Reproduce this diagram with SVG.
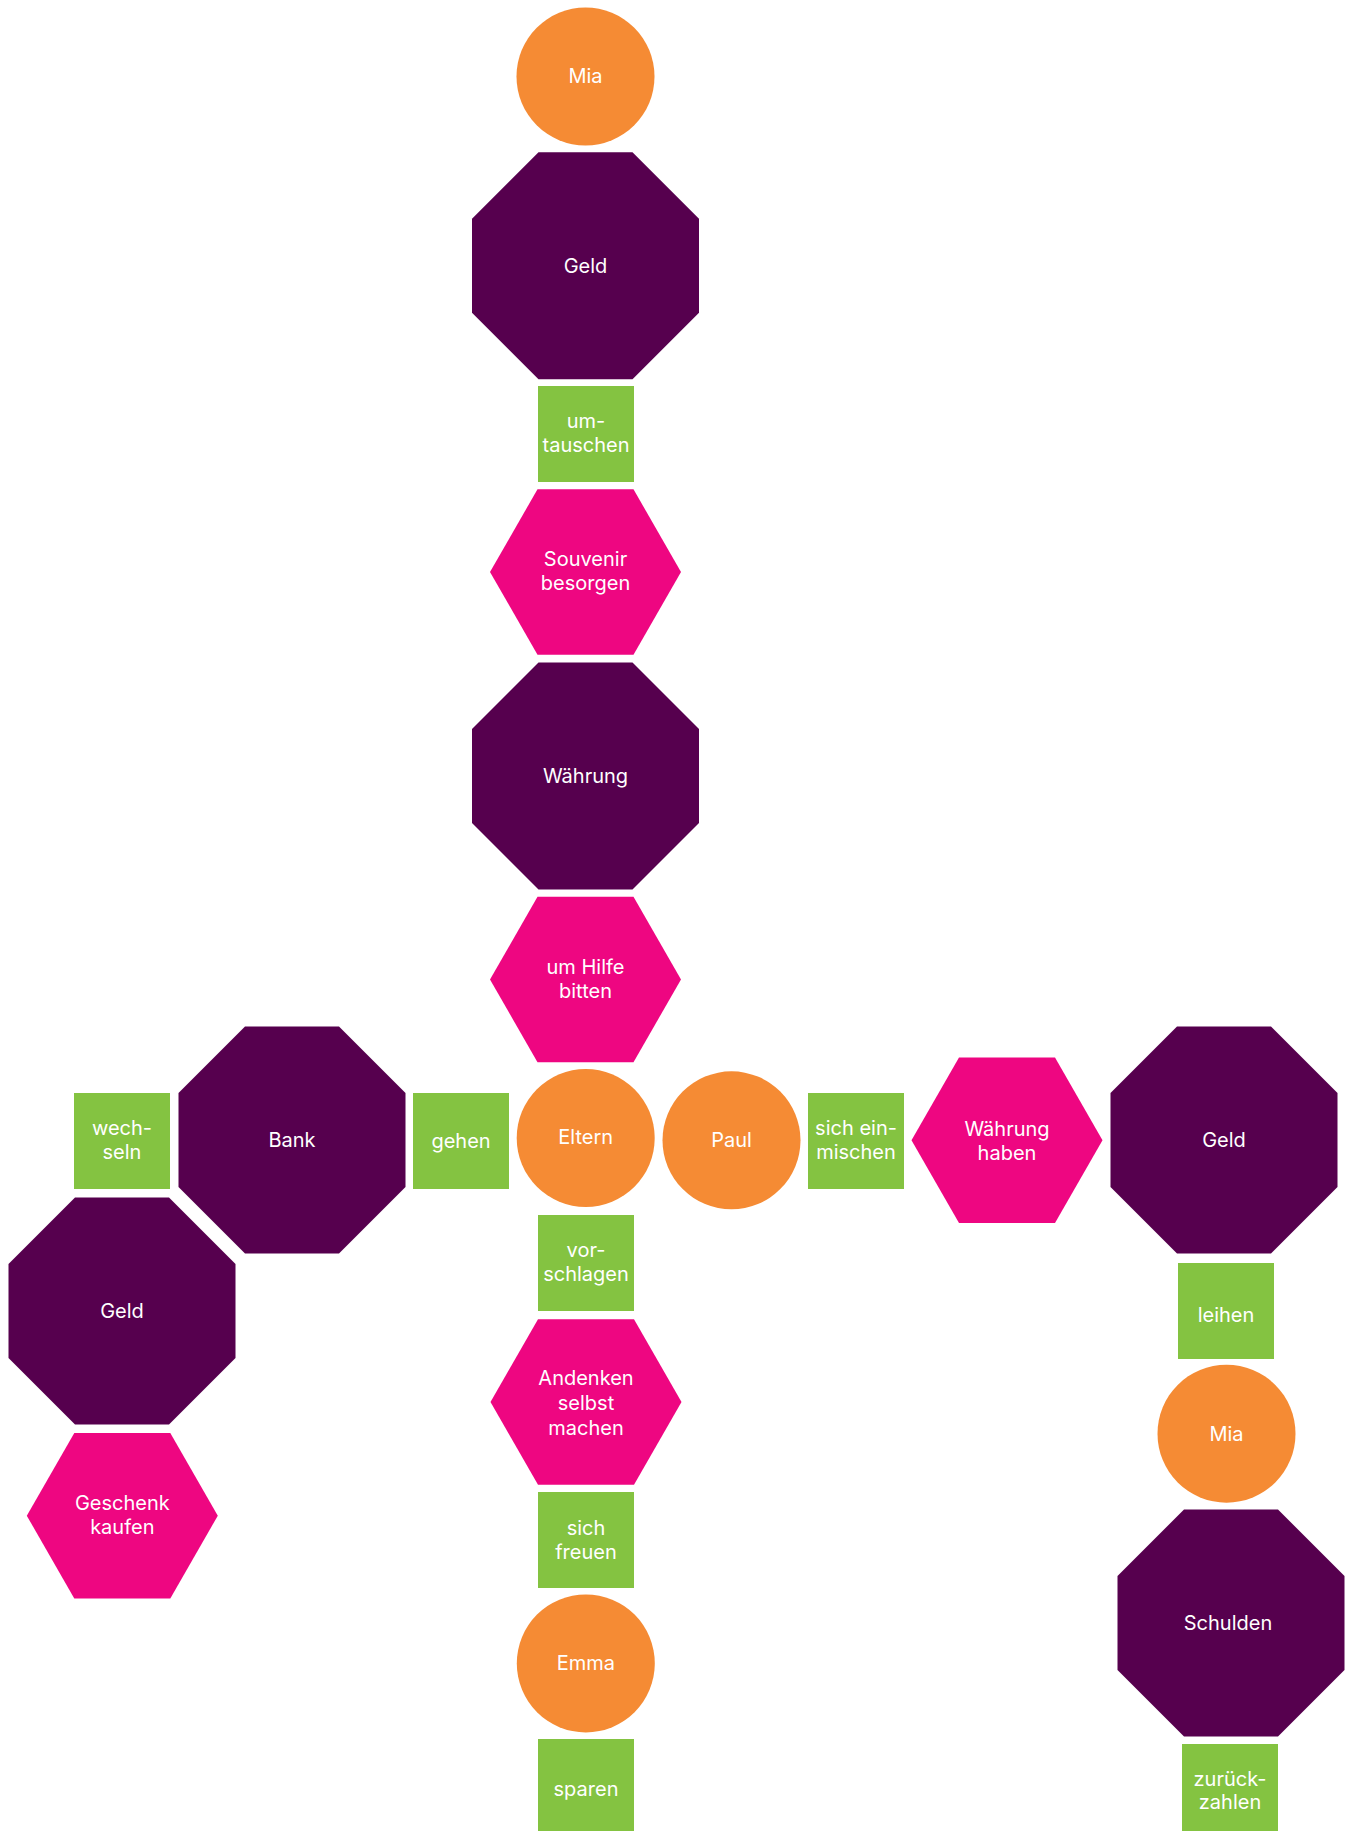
<svg xmlns="http://www.w3.org/2000/svg" xmlns:xlink="http://www.w3.org/1999/xlink" width="1348" height="1831" viewBox="0 0 1348 1831">
<style>
.o{fill:#F58B34}.p{fill:#56004E}.k{fill:#EE0681}.g{fill:#84C341}
text{font-family:Inter,"Noto Sans","DejaVu Sans",sans-serif;font-size:20px;fill:#FFFFFF;text-anchor:middle}
</style>
<defs>
<polygon id="oct" points="-47,-113.5 47,-113.5 113.5,-47 113.5,47 47,113.5 -47,113.5 -113.5,47 -113.5,-47"/>
<polygon id="hex" points="-95.5,0 -48,-82.7 48,-82.7 95.5,0 48,82.7 -48,82.7"/>
<circle id="cir" r="69"/>
<rect id="box" x="-48" y="-48" width="96" height="96"/>
</defs>
<rect width="1348" height="1831" fill="#FFFFFF"/>
<g id="connectors"></g>
<g id="n1" transform="translate(585.5,76.5)"><use href="#cir" class="o"/><text y="6">Mia</text></g>
<g id="n2" transform="translate(585.5,265.7)"><use href="#oct" class="p"/><text y="7">Geld</text></g>
<g id="n3" transform="translate(586,434)"><use href="#box" class="g"/><text y="-6">um-</text><text y="18">tauschen</text></g>
<g id="n4" transform="translate(585.5,572)"><use href="#hex" class="k"/><text y="-6">Souvenir</text><text y="18">besorgen</text></g>
<g id="n5" transform="translate(585.5,776)"><use href="#oct" class="p"/><text y="7">Währung</text></g>
<g id="n6" transform="translate(585.5,979.5)"><use href="#hex" class="k"/><text y="-6">um Hilfe</text><text y="18">bitten</text></g>
<g id="n7" transform="translate(585.7,1138)"><use href="#cir" class="o"/><text y="6">Eltern</text></g>
<g id="n8" transform="translate(461,1141)"><use href="#box" class="g"/><text y="7">gehen</text></g>
<g id="n9" transform="translate(292,1140)"><use href="#oct" class="p"/><text y="7">Bank</text></g>
<g id="n10" transform="translate(122,1141)"><use href="#box" class="g"/><text y="-6">wech-</text><text y="18">seln</text></g>
<g id="n11" transform="translate(122,1311)"><use href="#oct" class="p"/><text y="7">Geld</text></g>
<g id="n12" transform="translate(122.3,1515.7)"><use href="#hex" class="k"/><text y="-6">Geschenk</text><text y="18">kaufen</text></g>
<g id="n13" transform="translate(586,1263)"><use href="#box" class="g"/><text y="-6">vor-</text><text y="18">schlagen</text></g>
<g id="n14" transform="translate(586,1402)"><use href="#hex" class="k"/><text y="-17">Andenken</text><text y="8">selbst</text><text y="33">machen</text></g>
<g id="n15" transform="translate(586,1540)"><use href="#box" class="g"/><text y="-5">sich</text><text y="19">freuen</text></g>
<g id="n16" transform="translate(585.8,1663.4)"><use href="#cir" class="o"/><text y="7">Emma</text></g>
<g id="n17" transform="translate(586,1787)"><use href="#box" class="g"/><text y="9">sparen</text></g>
<g id="n18" transform="translate(731.5,1140.3)"><use href="#cir" class="o"/><text y="7">Paul</text></g>
<g id="n19" transform="translate(856,1141)"><use href="#box" class="g"/><text y="-6">sich ein-</text><text y="18">mischen</text></g>
<g id="n20" transform="translate(1007,1140.3)"><use href="#hex" class="k"/><text y="-4">Währung</text><text y="20">haben</text></g>
<g id="n21" transform="translate(1224,1140)"><use href="#oct" class="p"/><text y="7">Geld</text></g>
<g id="n22" transform="translate(1226,1311)"><use href="#box" class="g"/><text y="11">leihen</text></g>
<g id="n23" transform="translate(1226.5,1433.7)"><use href="#cir" class="o"/><text y="7">Mia</text></g>
<g id="n24" transform="translate(1231,1623)"><use href="#oct" class="p"/><text x="-3" y="7">Schulden</text></g>
<g id="n25" transform="translate(1230,1792)"><use href="#box" class="g"/><text y="-6">zurück-</text><text y="17">zahlen</text></g>
</svg>
